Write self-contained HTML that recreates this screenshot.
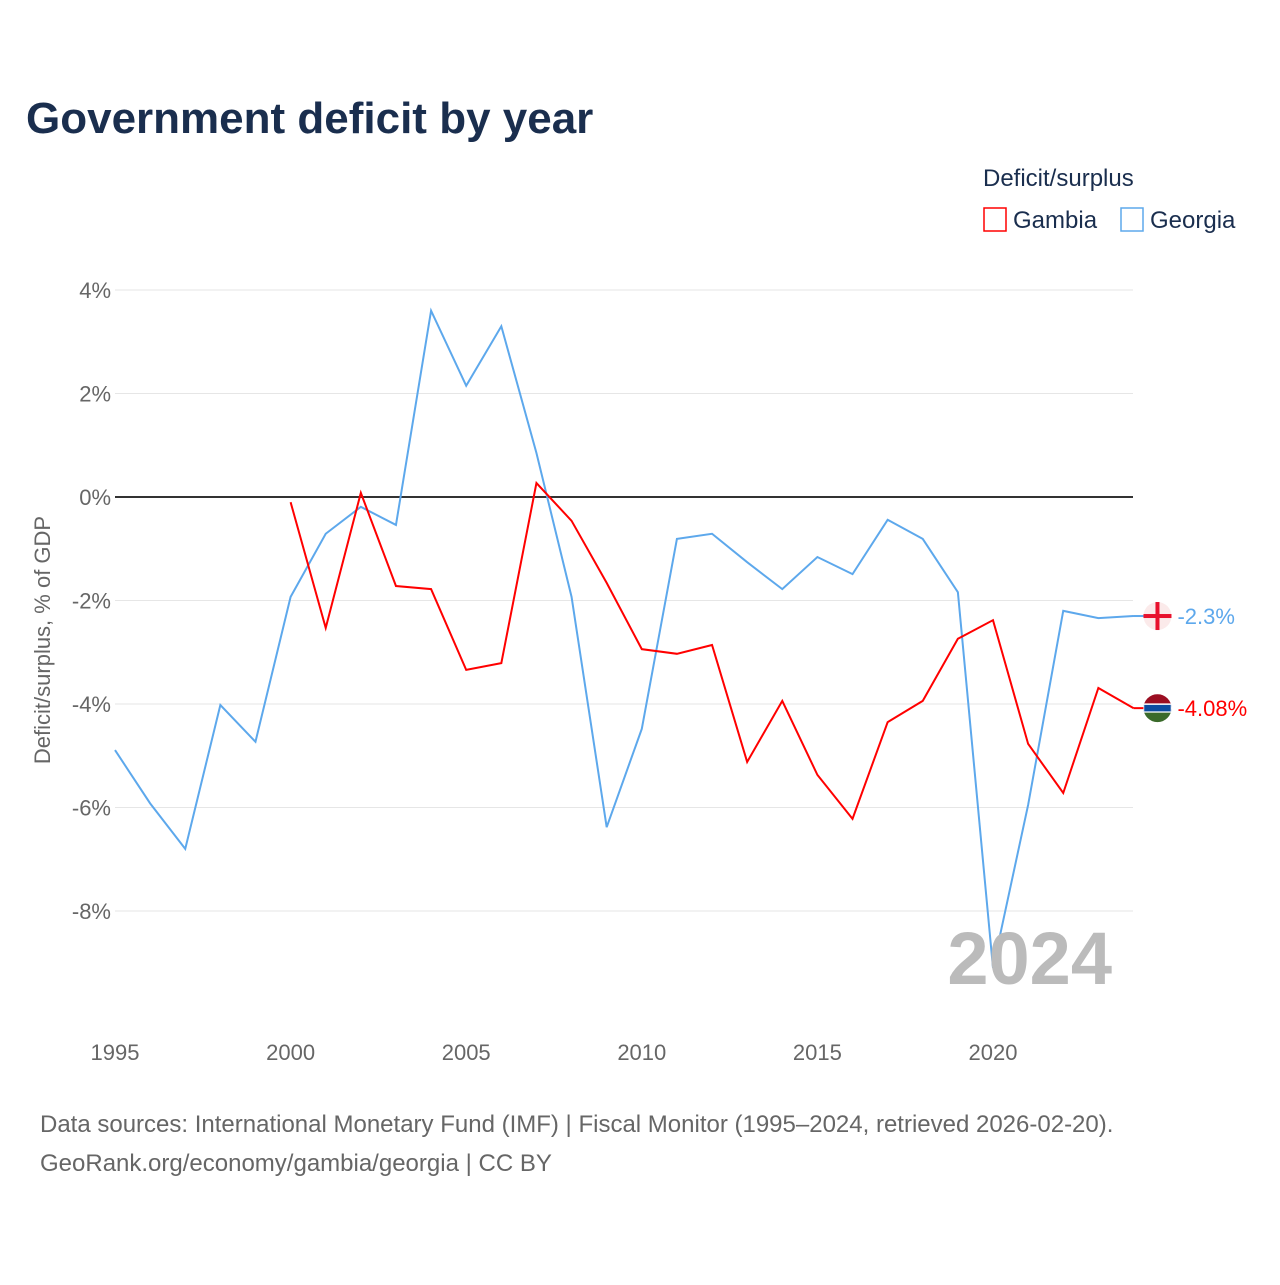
<!DOCTYPE html>
<html><head><meta charset="utf-8"><style>
body{margin:0;background:#fff;font-family:"Liberation Sans",sans-serif}
svg text{font-family:"Liberation Sans",sans-serif}
</style></head><body>
<svg width="1280" height="1280" viewBox="0 0 1280 1280" id="chart">
<text x="26" y="133" font-size="44" font-weight="bold" fill="#1a2e4e">Government deficit by year</text>
<text x="983" y="186" font-size="24" fill="#1a2e4e">Deficit/surplus</text>
<g><rect x="984" y="208" width="22" height="23" fill="none" stroke="#ff0000" stroke-width="1.5"/><text x="1013" y="228" font-size="24" fill="#1a2e4e">Gambia</text></g>
<g><rect x="1121" y="208" width="22" height="23" fill="none" stroke="#5da8ec" stroke-width="1.5"/><text x="1150" y="228" font-size="24" fill="#1a2e4e">Georgia</text></g>
<text transform="translate(50,640) rotate(-90)" text-anchor="middle" font-size="22" fill="#666">Deficit/surplus, % of GDP</text>
<g id="grid"></g><g id="lines"></g>
<text x="1112" y="984" text-anchor="end" font-size="74" font-weight="bold" fill="#bbbbbb">2024</text>
<text x="40" y="1132" font-size="24" fill="#666">Data sources: International Monetary Fund (IMF) | Fiscal Monitor (1995–2024, retrieved 2026-02-20).</text>
<text x="40" y="1171" font-size="24" fill="#666">GeoRank.org/economy/gambia/georgia | CC BY</text>
</svg>
<script>
const years=[];for(let y=1995;y<=2024;y++)years.push(y);
const georgia=[-4.89,-5.92,-6.8,-4.02,-4.73,-1.93,-0.71,-0.19,-0.54,3.6,2.15,3.3,0.85,-1.93,-6.38,-4.48,-0.81,-0.71,-1.26,-1.78,-1.16,-1.49,-0.44,-0.81,-1.84,-9.1,-5.95,-2.2,-2.34,-2.3];
const gambiaYears=[2000,2001,2002,2003,2004,2005,2006,2007,2008,2009,2010,2011,2012,2013,2014,2015,2016,2017,2018,2019,2020,2021,2022,2023,2024];
const gambia=[-0.1,-2.53,0.08,-1.72,-1.78,-3.34,-3.21,0.27,-0.46,-1.66,-2.94,-3.03,-2.86,-5.12,-3.94,-5.37,-6.22,-4.35,-3.94,-2.74,-2.38,-4.77,-5.72,-3.69,-4.08];
const yTicks=[4,2,0,-2,-4,-6,-8];
const xTicks=[1995,2000,2005,2010,2015,2020];
const NS="http://www.w3.org/2000/svg";
const xs=y=>115+(y-1995)*35.12;
const ys=v=>497-v*51.75;
function mk(tag,attrs,parent,text){const e=document.createElementNS(NS,tag);for(const k in attrs)e.setAttribute(k,attrs[k]);if(text!==undefined)e.textContent=text;parent.appendChild(e);return e;}
const grid=document.getElementById('grid'),lines=document.getElementById('lines');
yTicks.forEach(t=>{
 const l=mk('line',{x1:115,x2:1133,y1:ys(t),y2:ys(t),stroke:t===0?'#333':'#e6e6e6','stroke-width':t===0?2:1},grid);
 
 
 const tx=mk('text',{x:111,y:ys(t)+8,'text-anchor':'end','font-size':22,fill:'#666'},grid,t+'%');
 
 
});
xTicks.forEach(t=>{
 const tx=mk('text',{x:xs(t),y:1060,'text-anchor':'middle','font-size':22,fill:'#666'},grid,String(t));
 
 
});
function series(xv,vals,color,name){
 const p=mk('polyline',{points:vals.map((v,i)=>xs(xv[i])+','+ys(v)).join(' '),fill:'none',stroke:color,'stroke-width':2},lines);
 
 
 const last=vals[vals.length-1],lx=xs(xv[xv.length-1]);
 const ld=mk('line',{x1:lx,x2:lx+10,y1:ys(last),y2:ys(last),stroke:color,'stroke-width':2},lines);
 
 
 const lab=mk('text',{x:lx+44,y:ys(last)+8,'font-size':22,fill:color},lines,(Math.round(last*100)/100)+'%');
 
 
 return lx+24;
}
const gx=series(years,georgia,'#5da8ec','georgia');
const mx=series(gambiaYears,gambia,'#ff0000','gambia');
const gy=ys(georgia[georgia.length-1]);
const f1=mk('g',{},lines);


mk('circle',{cx:gx,cy:gy,r:14,fill:'#fbeaea'},f1);
mk('rect',{x:gx-14,y:gy-2,width:28,height:4,fill:'#e8112d'},f1);
mk('rect',{x:gx-2,y:gy-14,width:4,height:28,fill:'#e8112d'},f1);
const my=ys(gambia[gambia.length-1]);
const f2=mk('g',{},lines);


mk('clipPath',{id:'gc'},f2);
mk('circle',{cx:mx,cy:my,r:14},f2.lastChild);
const gg=mk('g',{'clip-path':'url(#gc)'},f2);
mk('rect',{x:mx-14,y:my-14,width:28,height:10,fill:'#9b0e22'},gg);
mk('rect',{x:mx-14,y:my-4,width:28,height:8,fill:'#0c4ca0',stroke:'#fff','stroke-width':1.5},gg);
mk('rect',{x:mx-14,y:my+4.5,width:28,height:10,fill:'#3a6a2a'},gg);
</script>
</body></html>
